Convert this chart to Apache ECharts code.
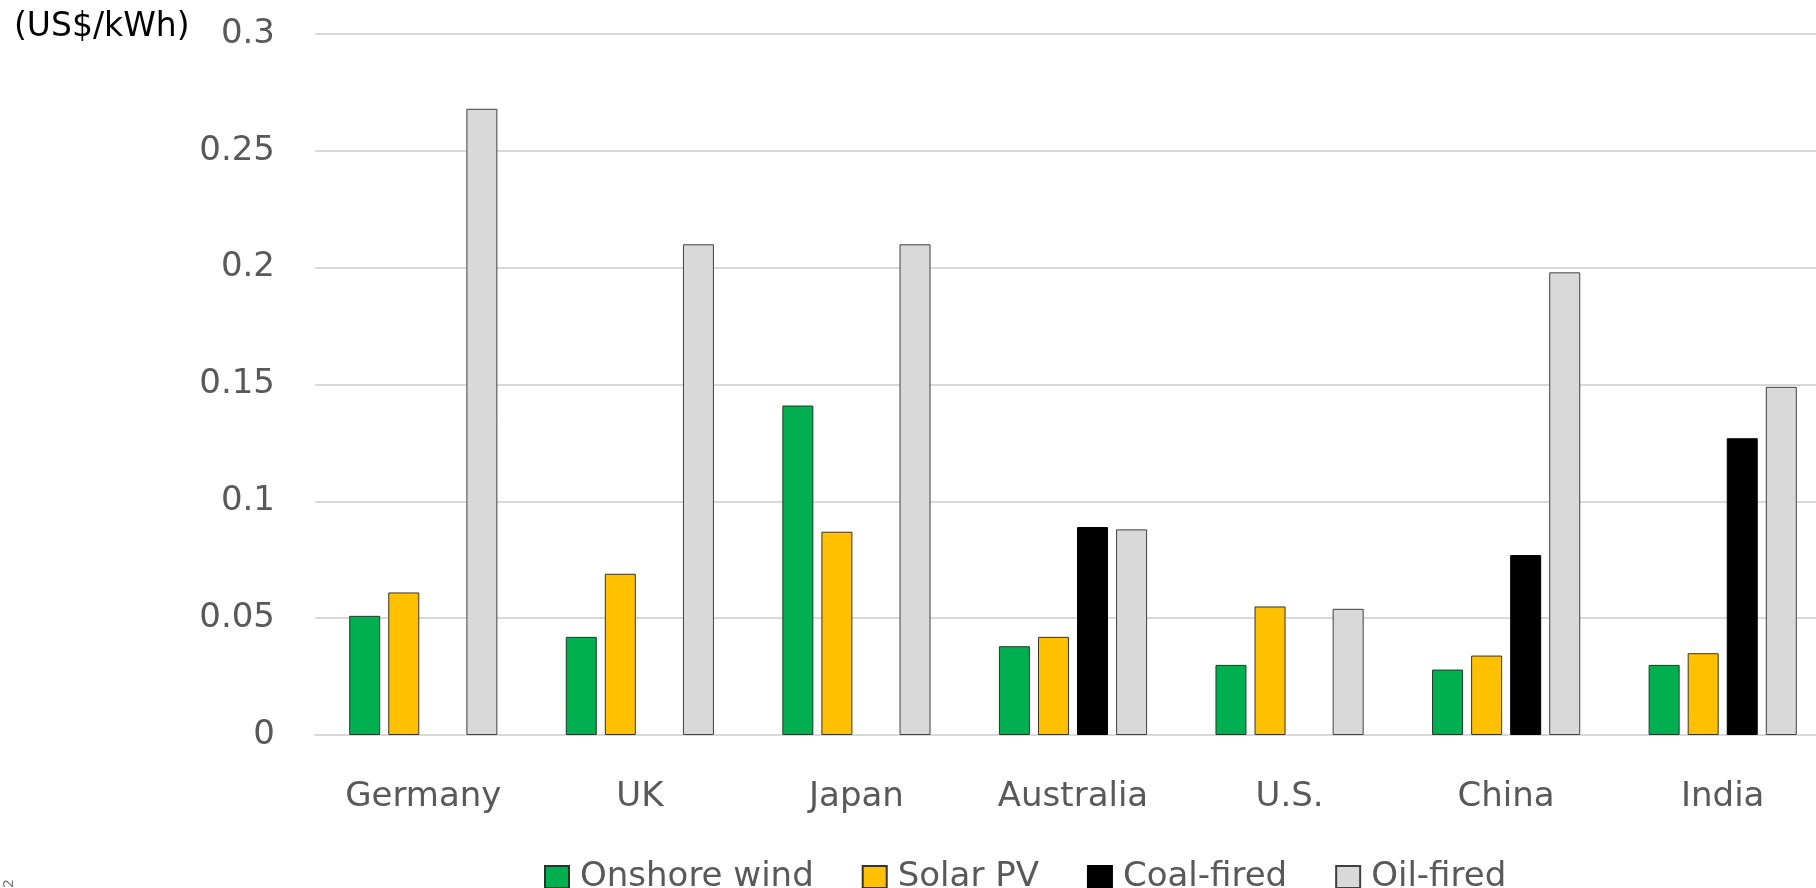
<!DOCTYPE html>
<html>
<head>
<meta charset="utf-8">
<script src="https://cdn.jsdelivr.net/npm/echarts@6/dist/echarts.min.js"></script>
<style>
html,body{margin:0;padding:0;background:#fff;}
#main{width:1816px;height:888px;}
</style>
</head>
<body>
<div id="main"></div>
<script>
// 数据
var countries = ['Germany', 'UK', 'Japan', 'Australia', 'U.S.', 'China', 'India'];
var onshoreWind = [0.051, 0.042, 0.141, 0.038, 0.030, 0.028, 0.030];
var solarPV = [0.061, 0.069, 0.087, 0.042, 0.055, 0.034, 0.035];
var coalFired = [null, null, null, 0.089, null, 0.077, 0.127];
var oilFired = [0.268, 0.210, 0.210, 0.088, 0.054, 0.198, 0.149];
var yTicks = [0, 0.05, 0.1, 0.15, 0.2, 0.25, 0.3];

var myChart = echarts.init(document.getElementById('main'));
var font = 'DejaVu Sans';

function barSeries(name, data, color, border) {
    return {
        name: name,
        type: 'bar',
        data: data,
        barWidth: 31,
        barGap: '26%',
        itemStyle: {
            color: color,
            borderColor: border,
            borderWidth: 1
        }
    };
}

var option = {
    animation: false,
    textStyle: {fontFamily: font},
    // 图表右侧被裁掉一点，所以宽度超出画布
    grid: {left: 315, width: 1516, top: 34, bottom: 153, outerBoundsMode: 'none', containLabel: false},
    legend: {
        left: 539,
        top: 855,
        itemWidth: 24,
        itemHeight: 22,
        itemGap: 48,
        icon: 'rect',
        textStyle: {fontFamily: font, fontSize: 34, color: '#595959', padding: [0, 0, 0, 6]},
        data: ['Onshore wind', 'Solar PV', 'Coal-fired', 'Oil-fired']
    },
    xAxis: {
        type: 'category',
        data: countries,
        axisLine: {show: true, lineStyle: {color: '#d9d9d9', width: 2}},
        axisTick: {show: false},
        axisLabel: {fontFamily: font, fontSize: 34, color: '#595959', margin: 45}
    },
    yAxis: {
        type: 'value',
        min: 0,
        max: 0.3,
        interval: 0.05,
        axisLine: {show: false},
        axisTick: {show: false},
        splitLine: {lineStyle: {color: '#d9d9d9', width: 2}},
        axisLabel: {
            fontFamily: font, fontSize: 34, color: '#595959', margin: 40,
            formatter: function (v) {
                var t = yTicks.filter(function (x) { return Math.abs(x - v) < 1e-9; });
                return t.length ? String(t[0]) : '';
            }
        }
    },
    graphic: [
        {
            type: 'text', left: 14, top: 11,
            style: {text: '(US$/kWh)', fontFamily: font, fontSize: 33, fill: '#000'}
        },
        {
            type: 'text', x: 2, y: 888, rotation: Math.PI / 2,
            style: {text: '2', fontFamily: font, fontSize: 14, fill: '#777'}
        }
    ],
    series: [
        barSeries('Onshore wind', onshoreWind, '#00b050', '#1f3b27'),
        barSeries('Solar PV', solarPV, '#ffc000', '#3b3321'),
        barSeries('Coal-fired', coalFired, '#000000', '#000000'),
        barSeries('Oil-fired', oilFired, '#d9d9d9', '#404040')
    ]
};
myChart.setOption(option);
</script>
</body>
</html>
